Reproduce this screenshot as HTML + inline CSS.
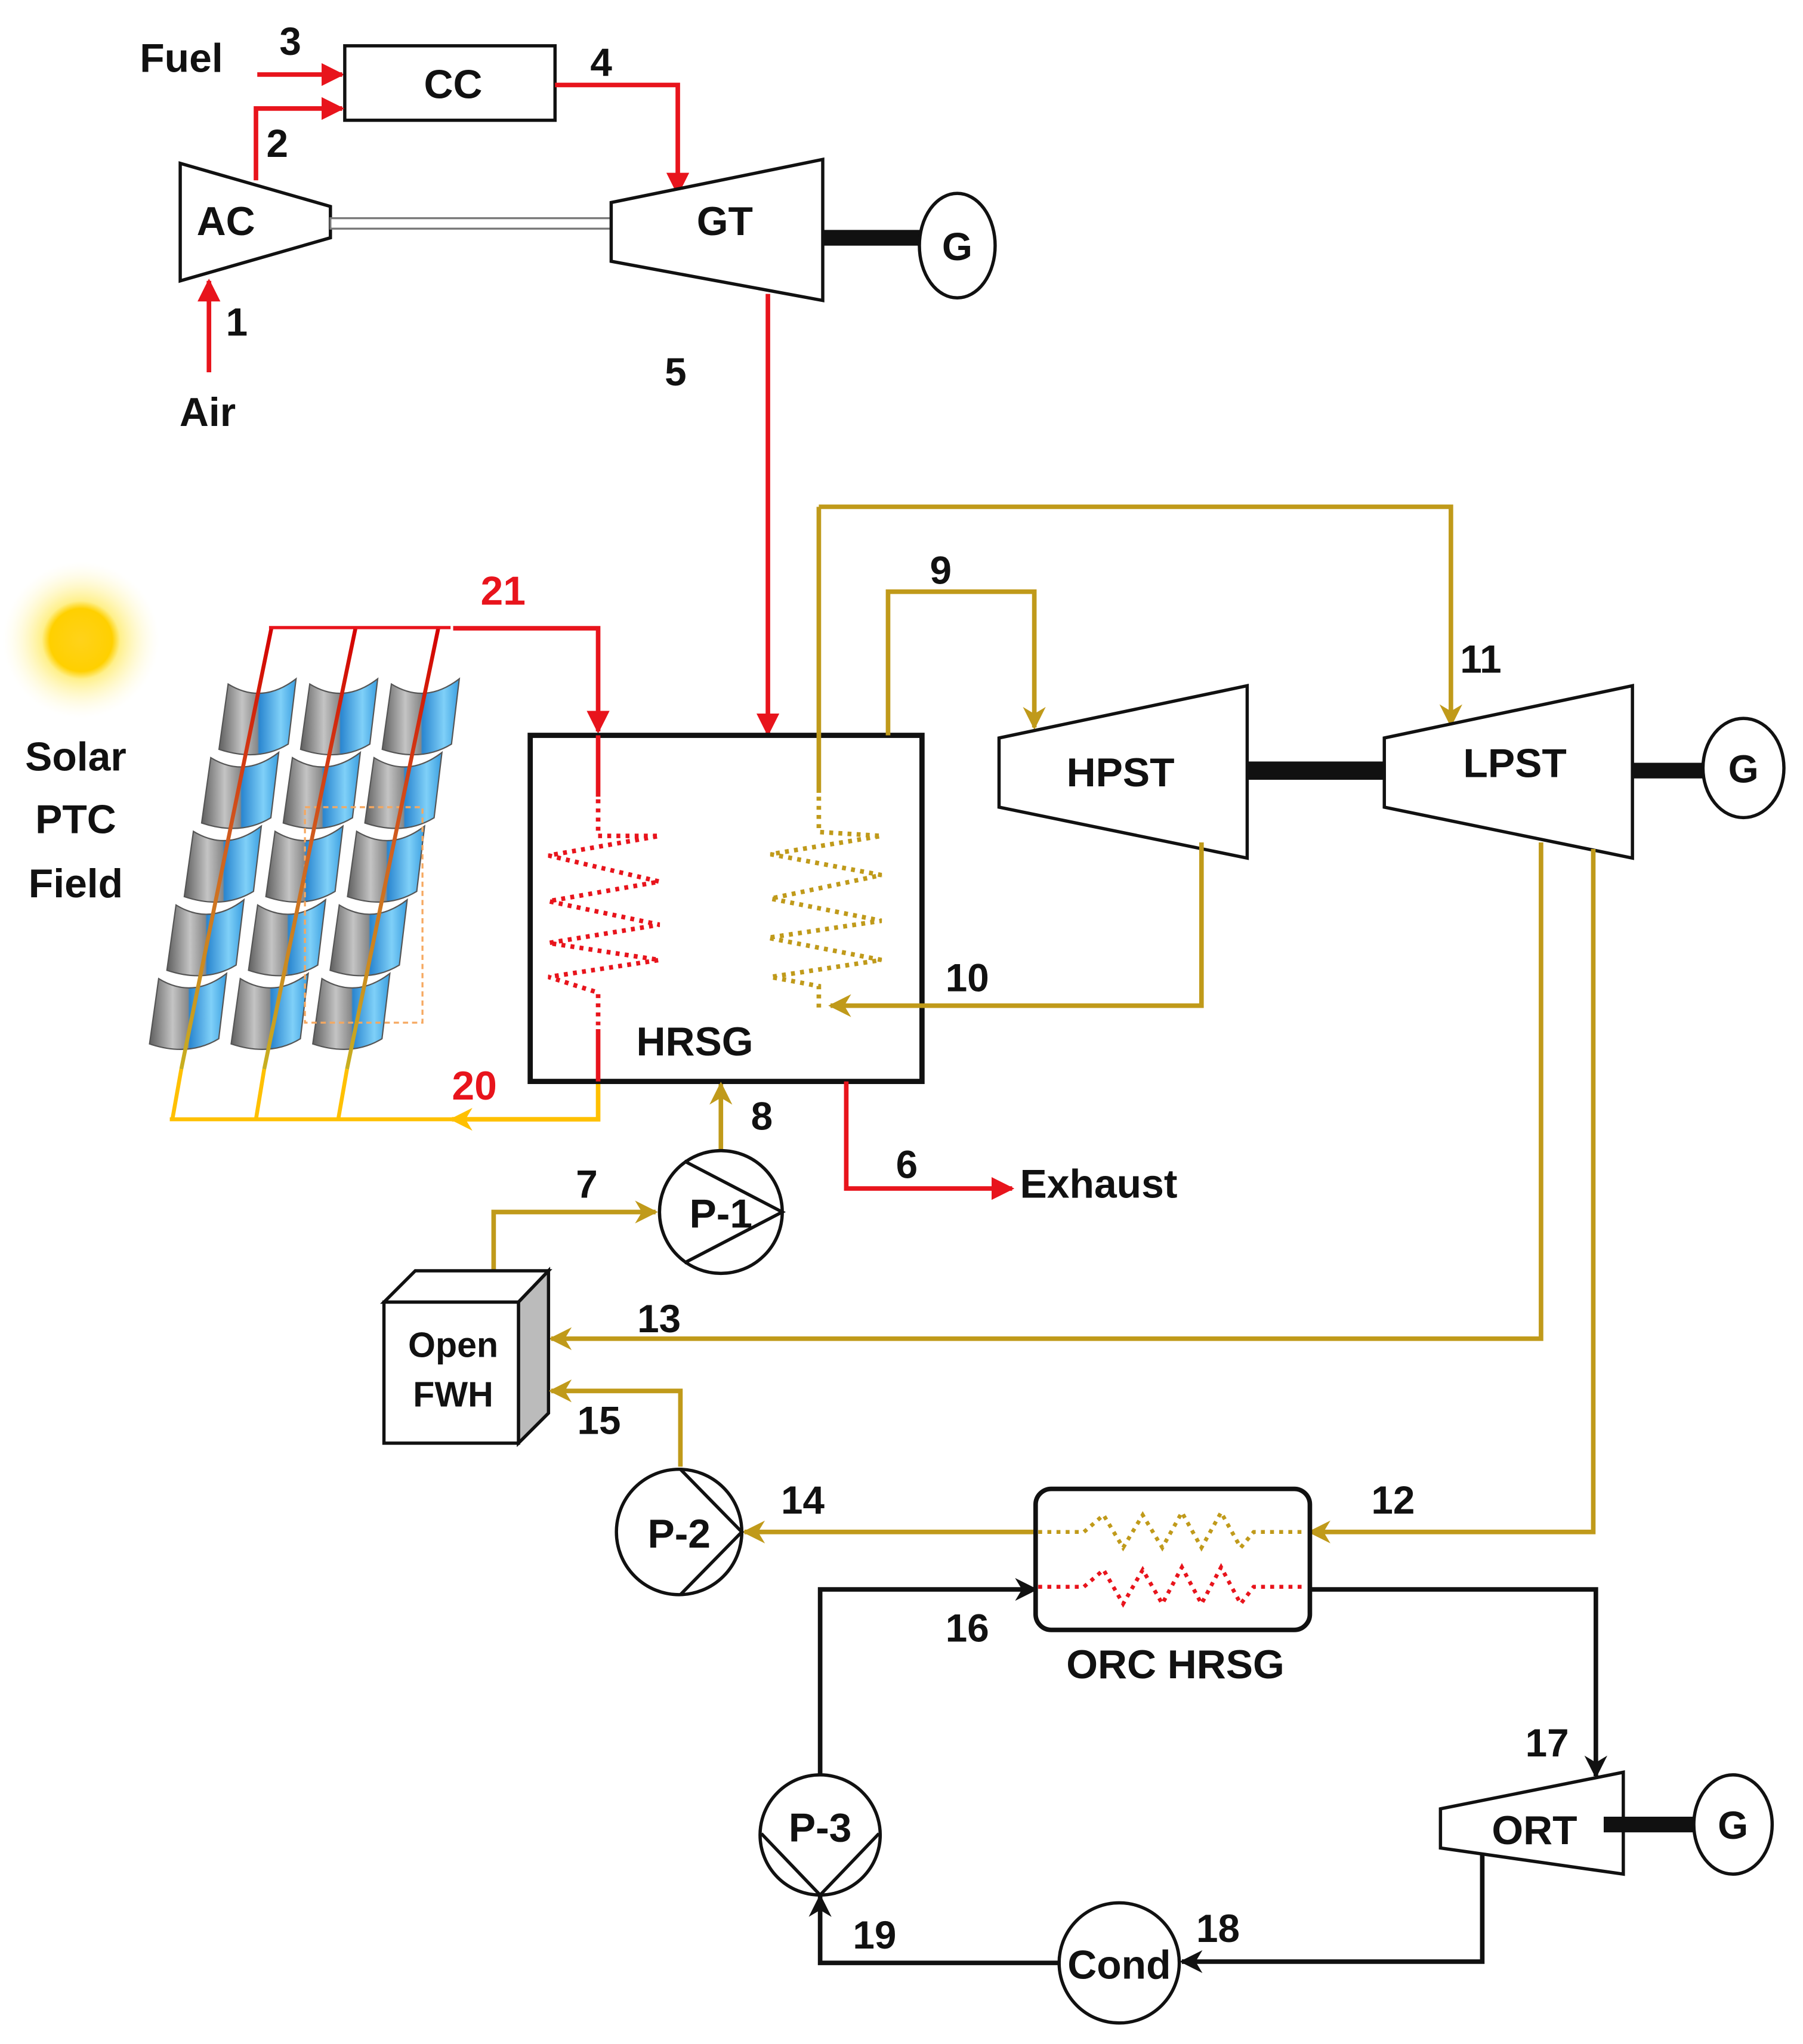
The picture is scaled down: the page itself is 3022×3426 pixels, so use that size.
<!DOCTYPE html>
<html><head><meta charset="utf-8"><style>
html,body{margin:0;padding:0;background:#fff}
svg{display:block}
text{font-family:"Liberation Sans",sans-serif;font-weight:bold;fill:#111}
</style></head><body>
<svg width="3022" height="3426" viewBox="0 0 1380.6 1565" xmlns="http://www.w3.org/2000/svg">
<defs>
<marker id="ar" viewBox="0 0 10 10" refX="9" refY="5" markerWidth="5" markerHeight="5" orient="auto"><path d="M0,0 L10,5 L0,10 Z" fill="#e8141c"/></marker>
<marker id="ay" viewBox="0 0 10 10" refX="9" refY="5" markerWidth="5" markerHeight="5" orient="auto"><path d="M0,0 L10,5 L0,10 L3,5 Z" fill="#c09a1a"/></marker>
<marker id="ab" viewBox="0 0 10 10" refX="9" refY="5" markerWidth="5" markerHeight="5" orient="auto"><path d="M0,0 L10,5 L0,10 L3,5 Z" fill="#111"/></marker>
<marker id="ao" viewBox="0 0 10 10" refX="9" refY="5" markerWidth="5" markerHeight="5" orient="auto"><path d="M0,0 L10,5 L0,10 L3,5 Z" fill="#ffc000"/></marker>
<radialGradient id="sun"><stop offset="0" stop-color="#ffd21a"/><stop offset="0.4" stop-color="#ffd000"/><stop offset="0.5" stop-color="#fff08a"/><stop offset="1" stop-color="#fffbe0" stop-opacity="0"/></radialGradient>
<linearGradient id="tg" x1="0" x2="1" y1="0" y2="0"><stop offset="0" stop-color="#5f5f5f"/><stop offset="0.3" stop-color="#c4c4c4"/><stop offset="0.5" stop-color="#888"/><stop offset="0.52" stop-color="#2a86d0"/><stop offset="0.8" stop-color="#7fd0f8"/><stop offset="1" stop-color="#3a9ee0"/></linearGradient>
<linearGradient id="tube" x1="0" x2="0" y1="0" y2="1"><stop offset="0" stop-color="#d40000"/><stop offset="0.5" stop-color="#d06020"/><stop offset="1" stop-color="#c8b020"/></linearGradient>
<path id="tr" d="M-2,4 Q24,20 50,0 L44,50 Q21,64 -9,54 Z" fill="url(#tg)" stroke="#555" stroke-width="1"/>
</defs>

<!-- Top: gas turbine cycle -->
<text x="107" y="55" font-size="31">Fuel</text>
<text x="214" y="42" font-size="30">3</text>
<line x1="197" y1="57" x2="262" y2="57" stroke="#e8141c" stroke-width="3.5" marker-end="url(#ar)"/>
<rect x="264" y="35" width="161" height="57" fill="#fff" stroke="#111" stroke-width="2.5"/>
<text x="347" y="75" font-size="31" text-anchor="middle">CC</text>
<text x="452" y="58" font-size="30">4</text>
<polyline points="425,65 519,65 519,148" fill="none" stroke="#e8141c" stroke-width="3.5" marker-end="url(#ar)"/>
<text x="204" y="120" font-size="30">2</text>
<polyline points="196,138 196,83 262,83" fill="none" stroke="#e8141c" stroke-width="3.5" marker-end="url(#ar)"/>
<polygon points="138,125 253,158 253,182 138,215" fill="#fff" stroke="#111" stroke-width="2.5"/>
<text x="173" y="180" font-size="31" text-anchor="middle">AC</text>
<rect x="253" y="167" width="215" height="8" fill="#fff" stroke="#777" stroke-width="1.5"/>
<polygon points="468,155 630,122 630,230 468,200" fill="#fff" stroke="#111" stroke-width="2.5"/>
<text x="555" y="180" font-size="31" text-anchor="middle">GT</text>
<line x1="630" y1="182" x2="706" y2="182" stroke="#111" stroke-width="12"/>
<ellipse cx="733" cy="188" rx="29" ry="40" fill="#fff" stroke="#111" stroke-width="2.5"/>
<text x="733" y="199" font-size="30" text-anchor="middle">G</text>
<line x1="160" y1="285" x2="160" y2="215" stroke="#e8141c" stroke-width="3.5" marker-end="url(#ar)"/>
<text x="173" y="257" font-size="30">1</text>
<text x="159" y="326" font-size="31" text-anchor="middle">Air</text>
<text x="509" y="295" font-size="30">5</text>
<line x1="588" y1="225" x2="588" y2="562" stroke="#e8141c" stroke-width="3.5" marker-end="url(#ar)"/>

<!-- Sun & label -->
<circle cx="62" cy="490" r="60" fill="url(#sun)"/>
<text x="58" y="590" font-size="31" text-anchor="middle">Solar</text>
<text x="58" y="638" font-size="31" text-anchor="middle">PTC</text>
<text x="58" y="687" font-size="31" text-anchor="middle">Field</text>

<!-- Solar field -->
<g>
<use href="#tr" x="176.7" y="519.7"/><use href="#tr" x="163.4" y="576.1"/><use href="#tr" x="150.1" y="632.5"/><use href="#tr" x="136.8" y="688.9"/><use href="#tr" x="123.5" y="745.3"/>
<use href="#tr" x="239.2" y="519.7"/><use href="#tr" x="225.9" y="576.1"/><use href="#tr" x="212.6" y="632.5"/><use href="#tr" x="199.3" y="688.9"/><use href="#tr" x="186" y="745.3"/>
<use href="#tr" x="301.7" y="519.7"/><use href="#tr" x="288.4" y="576.1"/><use href="#tr" x="275.1" y="632.5"/><use href="#tr" x="261.8" y="688.9"/><use href="#tr" x="248.5" y="745.3"/>
</g>
<rect x="233.5" y="618" width="90" height="165" fill="none" stroke="#f5a860" stroke-width="1.5" stroke-dasharray="4,3"/>
<g stroke="url(#tube)" stroke-width="3" fill="none">
<line x1="208" y1="480" x2="138.8" y2="818.6"/>
<line x1="272.4" y1="480" x2="202.3" y2="818.6"/>
<line x1="335.8" y1="480" x2="265.7" y2="818.6"/>
</g>
<line x1="206" y1="480.5" x2="345" y2="480.5" stroke="#e8141c" stroke-width="2.5"/>
<polyline points="347,481 458,481 458,560" fill="none" stroke="#e8141c" stroke-width="3.5" marker-end="url(#ar)"/>
<text x="368" y="463" font-size="31" style="fill:#e8141c">21</text>
<g stroke="#ffc000" stroke-width="3" fill="none">
<polyline points="138.8,818.6 132,857"/><polyline points="202.3,818.6 196,857"/><polyline points="265.7,818.6 259,857"/>
<line x1="130" y1="857" x2="346" y2="857"/>
</g>
<polyline points="458,828 458,857 346,857" fill="none" stroke="#ffc000" stroke-width="3.5" marker-end="url(#ao)"/>
<text x="346" y="842" font-size="31" style="fill:#e8141c">20</text>

<!-- HRSG -->
<rect x="406" y="563" width="300" height="265" fill="none" stroke="#111" stroke-width="4"/>
<text x="532" y="808" font-size="31" text-anchor="middle">HRSG</text>
<g stroke="#e8141c" stroke-width="3.5" fill="none">
<line x1="458" y1="563" x2="458" y2="610"/>
<polyline points="458,612 458,640 505,640 420,655 505,675 420,690 505,708 420,722 505,735 420,748 458,760 458,785" stroke-dasharray="3,4"/>
<line x1="458" y1="788" x2="458" y2="828"/>
</g>
<g stroke="#c09a1a" stroke-width="3.5" fill="none">
<line x1="627" y1="388" x2="627" y2="607"/>
<polyline points="627,610 627,637 675,640 590,654 675,670 590,688 675,705 588,718 675,735 590,748 627,755 627,772" stroke-dasharray="3,4"/>
</g>

<!-- steam lines -->
<polyline points="627,388 1111,388 1111,555" fill="none" stroke="#c09a1a" stroke-width="3.5" marker-end="url(#ay)"/>
<text x="1118" y="515" font-size="30">11</text>
<polyline points="680,563 680,453 792,453 792,557" fill="none" stroke="#c09a1a" stroke-width="3.5" marker-end="url(#ay)"/>
<text x="712" y="447" font-size="30">9</text>
<polygon points="765,565 955,525 955,657 765,618" fill="#fff" stroke="#111" stroke-width="2.5"/>
<text x="858" y="602" font-size="31" text-anchor="middle">HPST</text>
<line x1="955" y1="590" x2="1060" y2="590" stroke="#111" stroke-width="14"/>
<polygon points="1060,565 1250,525 1250,657 1060,618" fill="#fff" stroke="#111" stroke-width="2.5"/>
<text x="1160" y="595" font-size="31" text-anchor="middle">LPST</text>
<line x1="1250" y1="590" x2="1305" y2="590" stroke="#111" stroke-width="12"/>
<ellipse cx="1335" cy="588" rx="31" ry="38" fill="#fff" stroke="#111" stroke-width="2.5"/>
<text x="1335" y="599" font-size="30" text-anchor="middle">G</text>
<polyline points="920,645 920,770 636,770" fill="none" stroke="#c09a1a" stroke-width="3.5" marker-end="url(#ay)"/>
<text x="724" y="759" font-size="30">10</text>
<polyline points="1180,645 1180,1025 422,1025" fill="none" stroke="#c09a1a" stroke-width="3.5" marker-end="url(#ay)"/>
<text x="488" y="1020" font-size="30">13</text>
<polyline points="1220,650 1220,1173 1003,1173" fill="none" stroke="#c09a1a" stroke-width="3.5" marker-end="url(#ay)"/>
<text x="1050" y="1159" font-size="30">12</text>

<!-- exhaust, P-1 -->
<line x1="552" y1="880" x2="552" y2="830" stroke="#c09a1a" stroke-width="3.5" marker-end="url(#ay)"/>
<text x="575" y="865" font-size="30">8</text>
<polyline points="648,828 648,910 775,910" fill="none" stroke="#e8141c" stroke-width="3.5" marker-end="url(#ar)"/>
<text x="686" y="902" font-size="30">6</text>
<text x="781" y="917" font-size="31">Exhaust</text>
<circle cx="552" cy="928" r="47" fill="#fff" stroke="#111" stroke-width="2.5"/>
<polyline points="524,889 599,928 524,967" fill="none" stroke="#111" stroke-width="2.5"/>
<text x="552" y="940" font-size="31" text-anchor="middle">P-1</text>
<polyline points="378,972 378,928 502,928" fill="none" stroke="#c09a1a" stroke-width="3.5" marker-end="url(#ay)"/>
<text x="441" y="917" font-size="30">7</text>

<!-- Open FWH -->
<polygon points="294,997 318,973 420,973 397,997" fill="#fff" stroke="#111" stroke-width="2.5"/>
<polygon points="397,997 420,973 420,1082 397,1105" fill="#bbb" stroke="#111" stroke-width="2.5"/>
<rect x="294" y="997" width="103" height="108" fill="#fff" stroke="#111" stroke-width="2.5"/>
<text x="347" y="1039" font-size="27" text-anchor="middle">Open</text>
<text x="347" y="1077" font-size="27" text-anchor="middle">FWH</text>
<polyline points="521,1123 521,1065 422,1065" fill="none" stroke="#c09a1a" stroke-width="3.5" marker-end="url(#ay)"/>
<text x="442" y="1098" font-size="30">15</text>

<!-- P-2 -->
<line x1="793" y1="1173" x2="570" y2="1173" stroke="#c09a1a" stroke-width="3.5" marker-end="url(#ay)"/>
<text x="598" y="1159" font-size="30">14</text>
<circle cx="520" cy="1173" r="48" fill="#fff" stroke="#111" stroke-width="2.5"/>
<polyline points="521,1125 568,1173 521,1221" fill="none" stroke="#111" stroke-width="2.5"/>
<text x="520" y="1185" font-size="31" text-anchor="middle">P-2</text>

<!-- ORC HRSG -->
<rect x="793" y="1140" width="210" height="108" rx="12" fill="#fff" stroke="#111" stroke-width="3.5"/>
<polyline points="795,1173 830,1173 845,1160 860,1185 875,1160 890,1185 905,1158 920,1185 935,1158 950,1185 960,1173 1000,1173" fill="none" stroke="#c09a1a" stroke-width="3" stroke-dasharray="3,4"/>
<polyline points="795,1215 830,1215 845,1202 860,1228 875,1202 890,1228 905,1200 920,1228 935,1200 950,1228 960,1215 1000,1215" fill="none" stroke="#e8141c" stroke-width="3" stroke-dasharray="3,4"/>
<text x="900" y="1285" font-size="31" text-anchor="middle">ORC HRSG</text>

<!-- ORC loop -->
<polyline points="1003,1217 1222,1217 1222,1360" fill="none" stroke="#111" stroke-width="3.5" marker-end="url(#ab)"/>
<text x="1168" y="1345" font-size="30">17</text>
<polygon points="1103,1385 1243,1357 1243,1435 1103,1415" fill="#fff" stroke="#111" stroke-width="2.5"/>
<text x="1175" y="1412" font-size="31" text-anchor="middle">ORT</text>
<line x1="1228" y1="1397" x2="1297" y2="1397" stroke="#111" stroke-width="12"/>
<ellipse cx="1327" cy="1397" rx="30" ry="38" fill="#fff" stroke="#111" stroke-width="2.5"/>
<text x="1327" y="1408" font-size="30" text-anchor="middle">G</text>
<polyline points="1135,1420 1135,1502 905,1502" fill="none" stroke="#111" stroke-width="3.5" marker-end="url(#ab)"/>
<text x="916" y="1487" font-size="30">18</text>
<circle cx="857" cy="1503" r="46" fill="#fff" stroke="#111" stroke-width="2.5"/>
<text x="857" y="1515" font-size="31" text-anchor="middle">Cond</text>
<polyline points="810,1503 628,1503 628,1452" fill="none" stroke="#111" stroke-width="3.5" marker-end="url(#ab)"/>
<text x="653" y="1492" font-size="30">19</text>
<circle cx="628" cy="1405" r="46" fill="#fff" stroke="#111" stroke-width="2.5"/>
<polyline points="583,1404 628,1451 673,1404" fill="none" stroke="#111" stroke-width="2.5"/>
<text x="628" y="1410" font-size="31" text-anchor="middle">P-3</text>
<polyline points="628,1359 628,1217 793,1217" fill="none" stroke="#111" stroke-width="3.5" marker-end="url(#ab)"/>
<text x="724" y="1257" font-size="30">16</text>
</svg>
</body></html>
